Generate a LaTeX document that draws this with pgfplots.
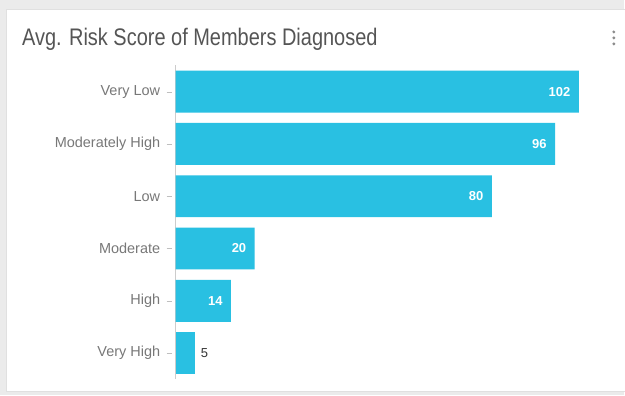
\documentclass[border=0pt]{standalone}
\usepackage{pgfplots}
\pgfplotsset{compat=1.18}
\usepackage{fontspec}
\usepackage{graphicx}
\setmainfont{Liberation Sans}
\definecolor{barcol}{RGB}{41,192,226}
\definecolor{bggray}{RGB}{235,235,235}
\definecolor{titlecol}{RGB}{85,85,85}
\definecolor{tickcol}{RGB}{120,120,120}
\begin{document}
\begin{tikzpicture}[x=1pt,y=1pt]
\fill[bggray] (0,0) rectangle (625,396);
\fill[white,draw=black!12] (6,4) rectangle (626,387);
\node[anchor=base west,inner sep=0pt,text=titlecol] at (22,350) {\scalebox{1}[1.2]{\fontsize{20}{24}\selectfont Avg. Risk Score of Members Diagnosed}};
\foreach \yy in {364,358,352} \fill[black!45] (615,\yy) circle (1.6);
\begin{axis}[
  at={(176pt,16pt)}, anchor=south west,
  scale only axis, width=435.6pt, height=314.4pt,
  xmin=0, xmax=110, ymin=-0.5, ymax=5.5,
  y dir=reverse,
  axis x line=none,
  axis y line=left,
  axis line style={draw=black!20,-},
  ytick={0,1,2,3,4,5},
  yticklabels={Very Low,Moderately High,Low,Moderate,High,Very High},
  yticklabel style={font=\fontsize{14.5}{16}\selectfont, text=tickcol, xshift=-7pt},
  tick style={draw=black!25, xshift=-4pt},
  tick align=outside, major tick length=5pt,
  /pgf/number format/assume math mode=true,
  clip=false,
]
\addplot[xbar, bar width=42pt, bar shift=0pt, fill=barcol, draw=none,
  nodes near coords,
  nodes near coords style={anchor=east, xshift=-5pt, text=white, font=\bfseries\fontsize{13}{15}\selectfont}]
  coordinates {(102,0) (96,1) (80,2) (20,3) (14,4)};
\addplot[xbar, bar width=42pt, bar shift=0pt, fill=barcol, draw=none,
  nodes near coords,
  nodes near coords style={anchor=west, xshift=2pt, text=black!80, font=\fontsize{13}{15}\selectfont}]
  coordinates {(5,5)};
\end{axis}
\end{tikzpicture}
\end{document}
